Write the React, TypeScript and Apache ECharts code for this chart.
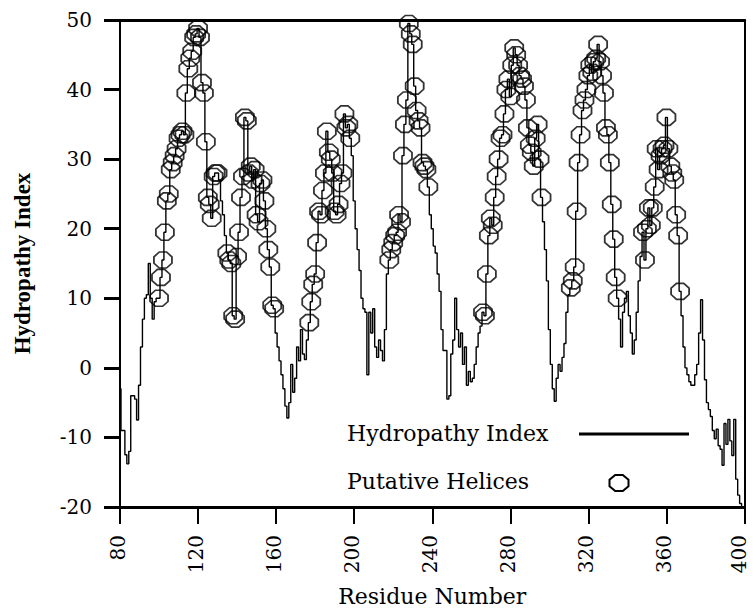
import React, { useEffect, useRef } from 'react';
import * as echarts from 'echarts';

// Residue numbering of the first value
const FIRST_RESIDUE = 80;

// Hydropathy index, one value per residue (80 .. 400), ten per row
const hydropathy: number[] = [
  -3, -9, -9, -12.5, -13.8, -12, -4, -4, -4.5, -7.5, // 80
  -2.5, 3, 7, 10, 10.5, 15, 10, 7, 9.5, 10, // 90
  10, 13, 15.5, 19.5, 24, 25, 28.5, 29.5, 30.5, 31.5, // 100
  33, 33.5, 34, 33.5, 39.5, 43, 44.5, 45.5, 47.5, 48, // 110
  48.8, 47.5, 41, 39.5, 32.5, 24.5, 23.5, 21.5, 27.5, 28, // 120
  28, 27, 24, 22, 19, 16.5, 15.5, 15, 7.5, 7, // 130
  16, 19.5, 24.5, 27.5, 36, 35.5, 28, 29, 27, 28.5, // 140
  22, 21, 26.5, 27, 24, 20, 17, 14.5, 9, 8.5, // 150
  5, 3, 1, -1, -3, -5.5, -7.2, -5, 0.5, -3.5, // 160
  -1.5, 3, 1, 5.5, 2, 1.2, 4, 6.5, 9.5, 12, // 170
  13.5, 18, 22.5, 22, 25.5, 28, 34, 31, 30, 28, // 180
  22.5, 22, 23.5, 26.5, 28, 36.5, 34.5, 35, 33, 30.5, // 190
  24, 20, 17, 14, 10, 8.5, 8, -1, 8, 5, // 200
  8.5, 3, 1.5, 4, 2.5, 1, 5.5, 13.5, 15.5, 17, // 210
  18, 19, 19.5, 22, 21, 30.5, 35, 38.5, 49.5, 48, // 220
  46.5, 40.5, 37, 35.5, 34.5, 29.5, 29, 28.5, 26, 22, // 230
  20, 17.5, 16.5, 13.5, 11, 5.5, 2.5, 2.5, -4.5, -4, // 240
  2, 4, 10, 5.5, 3, 5, 0.5, 3, -2.5, -0.5, // 250
  -2, -1.5, 0.5, 3, 5, 6, 8, 7.5, 13.5, 19, // 260
  21.5, 20.5, 24.5, 27.5, 30, 33, 33.5, 36.5, 40, 41.5, // 270
  39, 43.5, 46, 45, 43.5, 42, 41.5, 40.5, 38.5, 34.5, // 280
  32, 31, 29, 33, 35, 30, 24.5, 21, 17, 12.5, // 290
  5.5, 0.5, -3, -4.8, -1.5, 0.5, -0.5, 1.5, 3.5, 8, // 300
  10.5, 11.5, 12.5, 14.5, 22.5, 29.5, 33.5, 37, 38.5, 40, // 310
  42, 43.5, 42.5, 44, 44.5, 46.5, 44, 42, 39.5, 34.5, // 320
  33.5, 29.5, 23.5, 18.5, 13, 10, 7, 3, 8, 10, // 330
  11, 7.5, 5, 2, 4, 8, 12.5, 16, 19.5, 15.5, // 340
  20, 23, 20.5, 23, 26, 31.5, 28.5, 30.5, 31.5, 32, // 350
  36, 31.5, 29, 28, 27, 22, 19, 11, 7.5, 3, // 360
  0, -1, -2, -2.5, -2.5, -1, 0.5, 5, 9.8, 4, // 370
  -1.7, -5, -6, -7, -9, -10.2, -8.8, -11.2, -11.7, -14, // 380
  -8, -11, -7.4, -10.5, -12.6, -7.4, -16, -18.3, -19.5, -20, // 390
  -20, // 400
];

// Residue ranges marked as putative helices (inclusive)
const helixRanges: [number, number][] = [
  [100, 130],
  [135, 159],
  [177, 198],
  [218, 238],
  [266, 296],
  [311, 335],
  [348, 367],
];

// Axis scales
const xMin = 80;
const xMax = 400;
const xStep = 40;
const yMin = -20;
const yMax = 50;
const yStep = 10;

// Texts
const seriesNames = ['Hydropathy Index', 'Putative Helices'];
const xAxisName = 'Residue Number';
const yAxisName = 'Hydropathy Index';

const OCTAGON = 'path://M3,0L7,0L10,3L10,7L7,10L3,10L0,7L0,3Z';
const SERIF = '"DejaVu Serif", serif';

export default function App() {
  const ref = useRef<HTMLDivElement>(null);

  useEffect(() => {
    if (!ref.current) return;
    const chart = echarts.init(ref.current, null, { renderer: 'svg' });

    const lineData = hydropathy.map((v, i) => [FIRST_RESIDUE + i, v]);
    const helixData = lineData.filter(([r]) =>
      helixRanges.some(([a, b]) => r >= a && r <= b)
    );

    // legend octagon geometry
    const cx = 619;
    const cy = 483;
    const w = 19;
    const h = 16;
    const ox = w * 0.3;
    const oy = h * 0.3;
    const l = cx - w / 2;
    const r = cx + w / 2;
    const t = cy - h / 2;
    const b = cy + h / 2;

    const labelBase = { fontFamily: SERIF, fontSize: 20, color: '#000' };

    chart.setOption({
      animation: false,
      backgroundColor: '#fff',
      grid: { left: 120, right: 3, top: 20, bottom: 100, containLabel: false },
      xAxis: [
        {
          type: 'value',
          min: xMin,
          max: xMax,
          interval: xStep,
          name: xAxisName,
          nameLocation: 'middle',
          nameGap: 78,
          nameTextStyle: { fontFamily: SERIF, fontSize: 22, color: '#000' },
          axisLine: { show: true, onZero: false, lineStyle: { color: '#000', width: 3 } },
          axisTick: { show: true, length: 17, lineStyle: { color: '#000', width: 2 } },
          axisLabel: {
            rotate: 90,
            margin: 28,
            ...labelBase,
            formatter: (v: number) =>
              v === xMax ? `{n|${v}}\n{e| }` : `{n|${v}}\n{s| }`,
            rich: {
              n: { ...labelBase, lineHeight: 22 },
              s: { fontSize: 1, lineHeight: 4 },
              e: { fontSize: 1, lineHeight: 12 },
            },
          },
          splitLine: { show: false },
        },
        {
          type: 'value',
          position: 'top',
          min: xMin,
          max: xMax,
          interval: xStep,
          axisLine: { show: true, onZero: false, lineStyle: { color: '#000', width: 3 } },
          axisTick: { show: false },
          axisLabel: { show: false },
          splitLine: { show: false },
        },
      ],
      yAxis: [
        {
          type: 'value',
          min: yMin,
          max: yMax,
          interval: yStep,
          name: yAxisName,
          nameLocation: 'middle',
          nameRotate: 90,
          nameGap: 86,
          nameTextStyle: {
            fontFamily: '"Liberation Serif", serif',
            fontWeight: 'bold',
            fontSize: 23,
            color: '#000',
          },
          axisLine: { show: true, onZero: false, lineStyle: { color: '#000', width: 2 } },
          axisTick: { show: true, length: 16, lineStyle: { color: '#000', width: 3 } },
          axisLabel: { margin: 28, ...labelBase },
          splitLine: { show: false },
        },
        {
          type: 'value',
          position: 'right',
          min: yMin,
          max: yMax,
          interval: yStep,
          axisLine: { show: true, onZero: false, lineStyle: { color: '#000', width: 2 } },
          axisTick: { show: false },
          axisLabel: { show: false },
          splitLine: { show: false },
        },
      ],
      series: [
        {
          name: seriesNames[0],
          type: 'line',
          data: lineData,
          step: 'middle',
          showSymbol: false,
          symbol: 'none',
          lineStyle: { color: '#000', width: 1.4 },
          silent: true,
          z: 2,
        },
        {
          name: seriesNames[1],
          type: 'scatter',
          data: helixData,
          symbol: OCTAGON,
          symbolSize: [18, 16],
          itemStyle: { color: 'rgba(0,0,0,0)', borderColor: '#000', borderWidth: 1.7 },
          silent: true,
          z: 3,
        },
      ],
      graphic: [
        {
          type: 'text',
          left: 347,
          top: 422,
          style: { text: seriesNames[0], font: `22px ${SERIF}`, fill: '#000' },
        },
        {
          type: 'line',
          shape: { x1: 579, y1: 434, x2: 689, y2: 434 },
          style: { stroke: '#000', lineWidth: 3 },
        },
        {
          type: 'text',
          left: 347,
          top: 470,
          style: { text: seriesNames[1], font: `22px ${SERIF}`, fill: '#000' },
        },
        {
          type: 'polygon',
          shape: {
            points: [
              [l + ox, t],
              [r - ox, t],
              [r, t + oy],
              [r, b - oy],
              [r - ox, b],
              [l + ox, b],
              [l, b - oy],
              [l, t + oy],
            ],
          },
          style: { fill: 'none', stroke: '#000', lineWidth: 2 },
        },
      ],
    });

    return () => chart.dispose();
  }, []);

  return (
    <div
      ref={ref}
      style={{ position: 'absolute', left: 0, top: 0, width: 756, height: 612 }}
    />
  );
}
